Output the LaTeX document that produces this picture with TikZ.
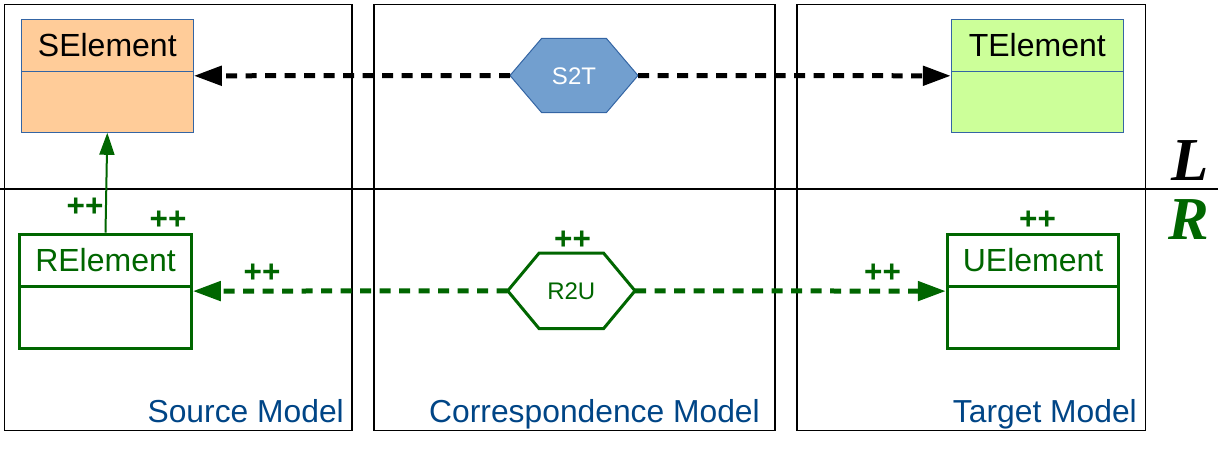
\documentclass[tikz,border=0pt]{standalone}
\usepackage{fontspec}
\setmainfont{Liberation Sans}
\newfontfamily\lrfont{Liberation Serif}
\usetikzlibrary{arrows.meta}
\definecolor{dgreen}{RGB}{0,102,0}
\definecolor{tblue}{RGB}{0,69,134}
\definecolor{hexblue}{RGB}{114,159,207}
\definecolor{edgeblue}{RGB}{52,101,164}
\definecolor{peach}{RGB}{255,204,153}
\definecolor{lgreen}{RGB}{204,255,153}
\begin{document}
\begin{tikzpicture}[x=1pt,y=-1pt,
  frame/.style={draw=black,line width=1.2pt},
  lclass/.style={rectangle,inner sep=0pt,minimum width=172pt,minimum height=113pt,draw=edgeblue,line width=1pt},
  rclass/.style={rectangle,inner sep=0pt,minimum width=171.6pt,minimum height=113.8pt,draw=dgreen,line width=3pt},
  ctext/.style={inner sep=0pt,anchor=base,font=\fontsize{32}{36}\selectfont},
  plus/.style={inner sep=0pt,anchor=base,text=dgreen,font=\fontsize{31.5}{36}\selectfont\bfseries},
  modellabel/.style={inner sep=0pt,anchor=base east,text=tblue,font=\fontsize{31.8}{36}\selectfont},
  lrlabel/.style={inner sep=0pt,anchor=base,font=\fontsize{61}{66}\lrfont\bfseries\itshape},
  blackdash/.style={draw=black,line width=5pt,dash pattern=on 11pt off 8.5pt,-{Triangle[length=28pt,width=19pt]}},
  greendash/.style={draw=dgreen,line width=5pt,dash pattern=on 11pt off 8.5pt,-{Triangle[length=28pt,width=19pt]}},
]
\useasboundingbox (0,0) rectangle (1218,448);
% region frames
\draw[frame] (4.3,4.3) rectangle (352,430.7);
\draw[frame] (374,4.3) rectangle (775,430.7);
\draw[frame] (797,4.3) rectangle (1145.5,430.7);
\coordinate (hl) at (0,189);
\coordinate (hr) at (1218,189);
\draw[frame] (hl) -- (hr);

% L side classes
\node[lclass,fill=peach] (selem) at (107.3,75.8) {};
\draw[edgeblue,line width=1pt] ([yshift=-52.7pt]selem.north west) -- ([yshift=-52.7pt]selem.north east);
\node[ctext] (selemt) at (107.3,56.7) {SElement};
\node[lclass,fill=lgreen] (telem) at (1037.3,75.8) {};
\draw[edgeblue,line width=1pt] ([yshift=-52.7pt]telem.north west) -- ([yshift=-52.7pt]telem.north east);
\node[ctext] (telemt) at (1037.3,56.7) {TElement};

% R side classes
\node[rclass] (relem) at (105.5,291.1) {};
\draw[dgreen,line width=3pt] ([yshift=-53.3pt]relem.north west) -- ([yshift=-53.3pt]relem.north east);
\node[ctext,text=dgreen] (relemt) at (105.5,271) {RElement};
\node[rclass] (uelem) at (1033.1,291.1) {};
\draw[dgreen,line width=3pt] ([yshift=-53.3pt]uelem.north west) -- ([yshift=-53.3pt]uelem.north east);
\node[ctext,text=dgreen] (uelemt) at (1033.1,271) {UElement};

% S2T hexagon
\coordinate (s2tW) at (510,75.5);
\coordinate (s2tE) at (638,75.5);
\fill[hexblue] (s2tW) -- (541.7,38.3) -- (606.3,38.3) -- (s2tE) -- (606.3,112.7) -- (541.7,112.7) -- cycle;
\draw[edgeblue,line width=1pt] (s2tW) -- (541.7,38.3) -- (606.3,38.3) -- (s2tE) -- (606.3,112.7) -- (541.7,112.7) -- cycle;
\node[ctext,text=white,font=\fontsize{24}{28}\selectfont] (s2t) at (574,84) {S2T};

% R2U hexagon
\coordinate (r2uW) at (507.7,290.8);
\coordinate (r2uE) at (635,290.8);
\draw[dgreen,line width=3pt,line join=miter] (r2uW) -- (539.2,253) -- (603.5,253) -- (r2uE) -- (603.5,328.7) -- (539.2,328.7) -- cycle;
\node[ctext,text=dgreen,font=\fontsize{24}{28}\selectfont] (r2u) at (571.3,299) {R2U};

% connectors
\draw[blackdash] (s2tW) -- (selem.east);
\draw[blackdash] (s2tE) -- (telem.west);
\draw[greendash] (r2uW) -- (relem.east);
\draw[greendash] (r2uE) -- (uelem.west);
\draw[dgreen,line width=2pt,-{Triangle[length=22pt,width=15pt]}] (relem.north) -- (selem.south);

% ++ labels
\node[plus] (p1) at (85,216.2) {++};
\node[plus] (p2) at (168,229.6) {++};
\node[plus] (p3) at (262,282.9) {++};
\node[plus] (p4) at (882.5,282.9) {++};
\node[plus] (p5) at (1037.5,229.6) {++};
\node[plus] (p6) at (572.5,249.6) {++};

% model labels
\node[modellabel] (srcm) at (344,422.3) {Source Model};
\node[modellabel] (corm) at (760,422.3) {Correspondence Model};
\node[modellabel] (tarm) at (1137,422.3) {Target Model};

% L / R
\node[lrlabel] (L) at (1190,180) {L};
\node[lrlabel,text=dgreen] (R) at (1189,239) {R};
\end{tikzpicture}
\end{document}
